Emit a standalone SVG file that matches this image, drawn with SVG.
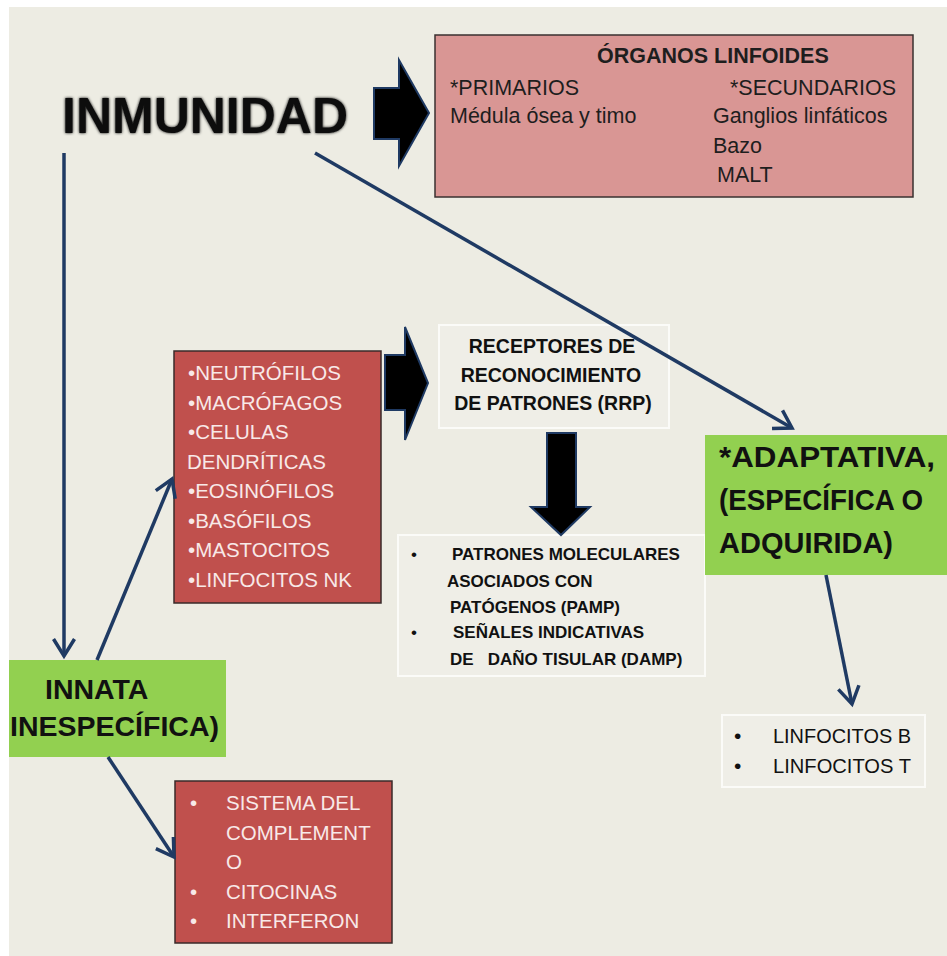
<svg xmlns="http://www.w3.org/2000/svg" width="947" height="956" viewBox="0 0 947 956">
<style>
text{font-family:"Liberation Sans",Arial,sans-serif}
.b{font-weight:bold}
.pk{font-size:21.5px;fill:#1e1e1e}
.wt{font-size:20.5px;fill:#F8E9E8}
.dk{fill:#111}
.con{fill:none;stroke:#1F3A63;stroke-width:3.5}
.blk{fill:#000;stroke:#1F3A63;stroke-width:2;stroke-linejoin:miter}
.red{fill:#C0504D;stroke:#3a2a2a;stroke-width:1.5}
.grn{fill:#92D050}
.lt{fill:#EFEEE7;stroke:#FBFBF8;stroke-width:2}
</style>
<defs>
<marker id="ah" viewBox="-22 -14 26 28" refX="0" refY="0" markerWidth="26" markerHeight="28" markerUnits="userSpaceOnUse" orient="auto">
<path d="M-17,-10.5 L0,0 L-17,10.5" fill="none" stroke="#1F3A63" stroke-width="3.5"/>
</marker>
<filter id="sh" x="-10%" y="-30%" width="120%" height="160%">
<feGaussianBlur in="SourceAlpha" stdDeviation="1.6" result="b"/>
<feMerge><feMergeNode in="b"/><feMergeNode in="SourceGraphic"/></feMerge>
</filter>
</defs>
<rect x="0" y="0" width="947" height="956" fill="#FFFFFF"/>
<rect x="9" y="7" width="938" height="949" fill="#EDECE3"/>

<g id="inmunidad">
<text x="62" y="133" class="b dk" font-size="50" filter="url(#sh)">INMUNIDAD</text>
</g>

<g id="organos">
<rect x="435" y="35" width="478" height="162" fill="#D99694" stroke="#3a3030" stroke-width="1.5"/>
<text x="597" y="63" class="b pk" font-size="21">ÓRGANOS LINFOIDES</text>
<text x="450" y="95" class="pk">*PRIMARIOS</text>
<text x="730" y="95" class="pk">*SECUNDARIOS</text>
<text x="450" y="123" class="pk">Médula ósea y timo</text>
<text x="713" y="123" class="pk">Ganglios linfáticos</text>
<text x="713" y="153" class="pk">Bazo</text>
<text x="717" y="182" class="pk">MALT</text>
</g>

<g id="celulas">
<rect x="174" y="351" width="207" height="252" class="red"/>
<text class="wt" x="188" y="380">•NEUTRÓFILOS</text>
<text class="wt" x="188" y="410">•MACRÓFAGOS</text>
<text class="wt" x="188" y="439">•CELULAS</text>
<text class="wt" x="187" y="469">DENDRÍTICAS</text>
<text class="wt" x="188" y="498">•EOSINÓFILOS</text>
<text class="wt" x="188" y="528">•BASÓFILOS</text>
<text class="wt" x="188" y="557">•MASTOCITOS</text>
<text class="wt" x="188" y="587">•LINFOCITOS NK</text>
</g>

<g id="rrp">
<rect x="439" y="325" width="230" height="103" class="lt"/>
<text class="b dk" font-size="19.5" text-anchor="middle" x="552" y="353">RECEPTORES DE</text>
<text class="b dk" font-size="19.5" text-anchor="middle" x="551" y="382">RECONOCIMIENTO</text>
<text class="b dk" font-size="19.5" text-anchor="middle" x="553" y="410">DE PATRONES (RRP)</text>
</g>

<g id="pamp">
<rect x="398" y="535" width="307" height="141" class="lt"/>
<text class="dk" font-size="17" x="411" y="560">•</text>
<text class="b dk" font-size="17" x="452" y="560">PATRONES MOLECULARES</text>
<text class="b dk" font-size="17" x="447" y="587">ASOCIADOS CON</text>
<text class="b dk" font-size="17" x="450" y="613">PATÓGENOS (PAMP)</text>
<text class="dk" font-size="17" x="411" y="638">•</text>
<text class="b dk" font-size="17" x="453" y="638">SEÑALES INDICATIVAS</text>
<text class="b dk" font-size="17" x="450" y="665" xml:space="preserve">DE   DAÑO TISULAR (DAMP)</text>
</g>

<g id="adaptativa">
<rect x="705" y="435" width="242" height="140" class="grn"/>
<text class="b dk" font-size="30" x="719" y="467" textLength="216" lengthAdjust="spacingAndGlyphs">*ADAPTATIVA,</text>
<text class="b dk" font-size="30" x="719" y="510" textLength="204" lengthAdjust="spacingAndGlyphs">(ESPECÍFICA O</text>
<text class="b dk" font-size="30" x="719" y="553" textLength="174" lengthAdjust="spacingAndGlyphs">ADQUIRIDA)</text>
</g>

<g id="linfocitos">
<rect x="722" y="715" width="203" height="72" class="lt"/>
<text class="dk" font-size="21" x="734" y="743">•</text>
<text class="dk" font-size="21" x="773" y="743" textLength="138" lengthAdjust="spacingAndGlyphs">LINFOCITOS B</text>
<text class="dk" font-size="21" x="734" y="773">•</text>
<text class="dk" font-size="21" x="773" y="773" textLength="138" lengthAdjust="spacingAndGlyphs">LINFOCITOS T</text>
</g>

<g id="innata">
<rect x="9" y="660" width="217" height="97" class="grn"/>
<text class="b dk" font-size="28.5" x="45" y="699">INNATA</text>
<text class="b dk" font-size="28.5" x="10" y="736">INESPECÍFICA)</text>
</g>

<g id="complemento">
<rect x="175" y="781" width="217" height="162" class="red"/>
<text class="wt" x="190" y="810">•</text>
<text class="wt" x="226" y="810">SISTEMA DEL</text>
<text class="wt" x="226" y="840">COMPLEMENT</text>
<text class="wt" x="226" y="869">O</text>
<text class="wt" x="190" y="899">•</text>
<text class="wt" x="226" y="899">CITOCINAS</text>
<text class="wt" x="190" y="928">•</text>
<text class="wt" x="226" y="928">INTERFERON</text>
</g>

<g id="connectors">
<line class="con" x1="64" y1="153" x2="64" y2="656" marker-end="url(#ah)"/>
<line class="con" x1="315" y1="153" x2="792" y2="428" marker-end="url(#ah)"/>
<line class="con" x1="97" y1="660" x2="172" y2="479" marker-end="url(#ah)"/>
<line class="con" x1="108" y1="757" x2="174" y2="857" marker-end="url(#ah)"/>
<line class="con" x1="826" y1="575" x2="852" y2="704" marker-end="url(#ah)"/>
<polygon class="blk" points="374,88 399,88 399,60 429,113 399,166 399,139 374,139"/>
<polygon class="blk" points="385,355 405,355 405,327 428,383 405,440 405,410 385,410"/>
<polygon class="blk" points="547,433 576,433 576,507 590,507 561,535 531,507 547,507"/>
</g>
</svg>
